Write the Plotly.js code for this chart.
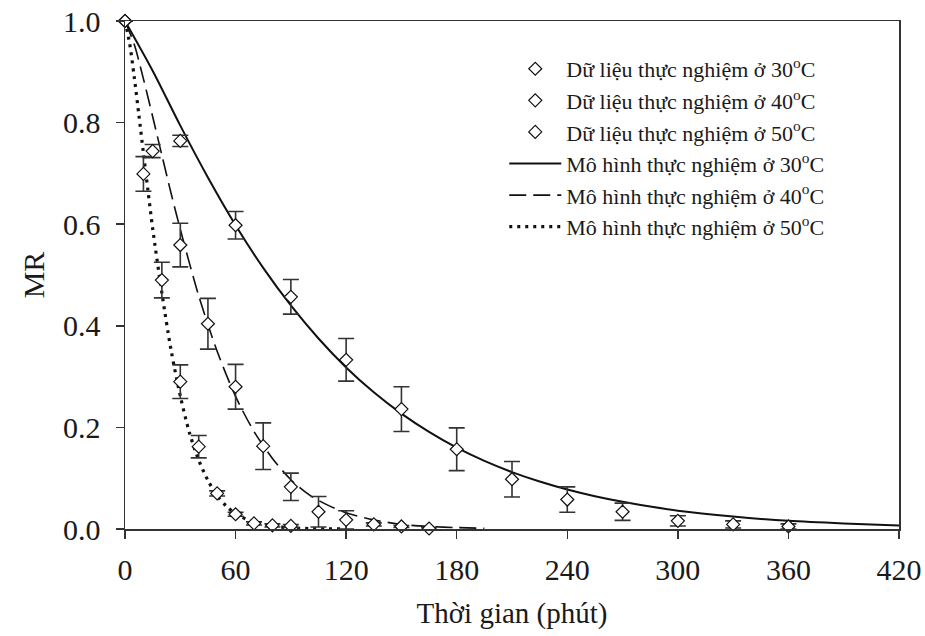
<!DOCTYPE html>
<html>
<head>
<meta charset="utf-8">
<script src="https://cdn.plot.ly/plotly-3.0.1.min.js"></script>
<style>html,body{margin:0;padding:0;background:#fff;}#chart{width:925px;height:636px;}</style>
</head>
<body>
<div id="chart"></div>
<script>
// Experimental data (time in minutes, moisture ratio MR, error)
const t30 = [0, 30, 60, 90, 120, 150, 180, 210, 240, 270, 300, 330, 360];
const mr30 = [1.0, 0.764, 0.598, 0.457, 0.333, 0.236, 0.157, 0.098, 0.058, 0.034, 0.016, 0.009, 0.005];
const err30 = [0, 0.011, 0.027, 0.034, 0.042, 0.044, 0.042, 0.035, 0.025, 0.017, 0.010, 0.007, 0.005];

const t40 = [0, 15, 30, 45, 60, 75, 90, 105, 120, 135, 150, 165];
const mr40 = [1.0, 0.744, 0.559, 0.404, 0.280, 0.163, 0.083, 0.034, 0.018, 0.009, 0.005, 0.001];
const err40 = [0, 0.013, 0.043, 0.050, 0.044, 0.046, 0.027, 0.030, 0.018, 0.003, 0.002, 0.002];

const t50 = [0, 10, 20, 30, 40, 50, 60, 70, 80, 90];
const mr50 = [1.0, 0.699, 0.490, 0.290, 0.162, 0.070, 0.029, 0.011, 0.007, 0.006];
const err50 = [0, 0.034, 0.035, 0.033, 0.022, 0.005, 0.004, 0.003, 0.003, 0.003];

// Model curves
const tm30 = [0, 15, 30, 45, 60, 75, 90, 105, 120, 135, 150, 165, 180, 195, 210, 225, 240, 255, 270, 285, 300, 330, 360, 390, 420];
const mm30 = [1.0, 0.902, 0.794, 0.692, 0.598, 0.514, 0.440, 0.375, 0.318, 0.269, 0.227, 0.191, 0.160, 0.134, 0.112, 0.0935, 0.0778, 0.0646, 0.0536, 0.0443, 0.0360, 0.0245, 0.0160, 0.0108, 0.0070];

const tm40 = [0, 5, 10, 15, 20, 25, 30, 40, 50, 60, 70, 80, 90, 100, 110, 120, 135, 150, 165, 180, 195];
const mm40 = [1.0, 0.954, 0.886, 0.812, 0.736, 0.661, 0.590, 0.459, 0.350, 0.261, 0.192, 0.139, 0.097, 0.067, 0.047, 0.032, 0.018, 0.009, 0.005, 0.0028, 0.0014];

const tm50 = [0, 2.5, 5, 7.5, 10, 12.5, 15, 20, 25, 30, 35, 40, 45, 50, 55, 60, 70, 80, 90, 100, 110, 120];
const mm50 = [1.0, 0.956, 0.890, 0.816, 0.740, 0.665, 0.592, 0.465, 0.352, 0.262, 0.189, 0.1356, 0.0956, 0.0655, 0.0450, 0.0300, 0.0135, 0.0058, 0.0024, 0.0009, 0.0004, 0.0002];

const xTicks = [0, 60, 120, 180, 240, 300, 360, 420];
const yTicks = [0, 0.2, 0.4, 0.6, 0.8, 1.0];

const legendNames = [
  'Dữ liệu thực nghiệm ở 30<sup>o</sup>C',
  'Dữ liệu thực nghiệm ở 40<sup>o</sup>C',
  'Dữ liệu thực nghiệm ở 50<sup>o</sup>C',
  'Mô hình thực nghiệm ở 30<sup>o</sup>C',
  'Mô hình thực nghiệm ở 40<sup>o</sup>C',
  'Mô hình thực nghiệm ở 50<sup>o</sup>C'
];

const FONT = 'Liberation Serif, Times New Roman, serif';

function dataTrace(x, y, e, name, rank) {
  return {
    x: x, y: y, name: name, type: 'scatter', mode: 'markers', cliponaxis: false, legendrank: rank,
    marker: {symbol: 'diamond', size: 10, color: '#ffffff', line: {color: '#111', width: 1.2}},
    error_y: {type: 'data', array: e, visible: true, color: '#333', thickness: 1.6, width: 8}
  };
}
function modelTrace(x, y, name, dash, width, rank) {
  return {
    x: x, y: y, name: name, type: 'scatter', mode: 'lines', cliponaxis: false, legendrank: rank,
    line: {color: '#111', width: width, dash: dash, shape: 'spline', smoothing: 0.8}
  };
}

const traces = [
  modelTrace(tm30, mm30, legendNames[3], 'solid', 2, 4),
  modelTrace(tm40, mm40, legendNames[4], '17px,7px', 1.6, 5),
  modelTrace(tm50, mm50, legendNames[5], '3px,5px', 3.2, 6),
  dataTrace(t30, mr30, err30, legendNames[0], 1),
  dataTrace(t40, mr40, err40, legendNames[1], 2),
  dataTrace(t50, mr50, err50, legendNames[2], 3)
];

const layout = {
  width: 925, height: 636,
  margin: {l: 125, r: 26, t: 21, b: 107},
  paper_bgcolor: '#fff', plot_bgcolor: '#fff',
  font: {family: FONT, color: '#1a1a1a', size: 22},
  showlegend: true,
  legend: {
    x: 0.49, y: 0.947, xanchor: 'left', yanchor: 'top',
    bgcolor: 'rgba(0,0,0,0)', borderwidth: 0,
    font: {family: FONT, size: 22, color: '#1a1a1a'},
    itemwidth: 52, traceorder: 'normal'
  },
  xaxis: {
    range: [0, 420], tickvals: xTicks,
    ticks: 'outside', ticklen: 8, tickwidth: 1.5, tickcolor: '#333',
    showline: true, linecolor: '#333', linewidth: 1.5, mirror: true,
    showgrid: false, zeroline: false, ticklabelstandoff: 5,
    tickfont: {family: FONT, size: 30, color: '#1a1a1a'},
    title: {text: 'Thời gian (phút)', font: {family: FONT, size: 29, color: '#1a1a1a'}, standoff: 18}
  },
  yaxis: {
    range: [0, 1], tickvals: yTicks, tickformat: '.1f',
    ticks: 'outside', ticklen: 8, tickwidth: 1.5, tickcolor: '#333',
    showline: true, linecolor: '#333', linewidth: 1.5, mirror: true,
    showgrid: false, zeroline: false, ticklabelstandoff: 9,
    tickfont: {family: FONT, size: 30, color: '#1a1a1a'},
    title: {text: 'MR', font: {family: FONT, size: 30, color: '#1a1a1a'}, standoff: 9}
  }
};

Plotly.newPlot('chart', traces, layout, {displayModeBar: false, staticPlot: true});
</script>
</body>
</html>
